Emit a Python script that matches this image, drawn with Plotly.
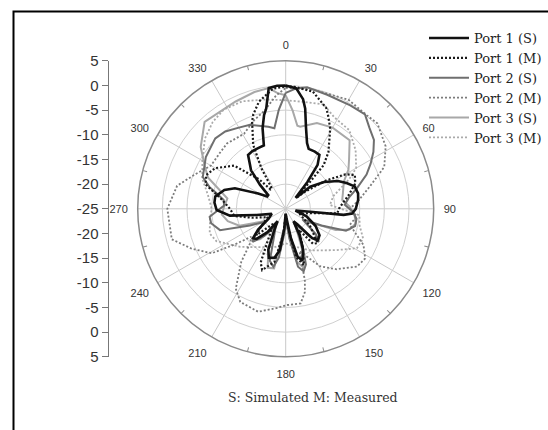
import plotly.graph_objects as go

# ---------------- data (angle in degrees, gain in dB) ----------------
p1s_theta = [0, 5, 9, 11, 14, 18, 21, 27, 32, 36, 39, 42, 45, 48, 55, 62, 67, 72, 78, 83, 90, 94, 96, 97, 100,
             110, 120, 128, 134, 138, 143, 148, 152, 157, 162, 166, 170, 175, 180, 184, 188, 193, 199, 203, 208,
             213, 218, 224, 228, 233, 240, 250, 258, 263, 269, 275, 280, 287, 292, 299, 304, 308, 313, 318, 321,
             325, 330, 336, 341, 344, 347, 349, 352, 356, 360]
p1s_db = [0, -0.5, -2.5, -4.3, -8, -11, -12, -12, -12.1, -14, -18, -22, -21, -18.3, -15.5, -13, -11.6, -10.3, -10,
          -10.2, -10.8, -11.5, -13.2, -20, -23, -20.5, -18, -16.3, -15.9, -17, -21, -22, -19, -16, -14, -15, -19,
          -23, -24, -21, -16.5, -14.8, -14.5, -16, -20, -22, -19, -16.5, -16.1, -18, -21, -22, -19, -13.6, -11,
          -10.5, -10.5, -12, -13.9, -18.6, -20.5, -20.5, -17.9, -14.5, -13.5, -11.7, -11.5, -11.5, -11.4, -8,
          -5.5, -4.3, -0.3, 0, 0]

p1m_theta = [0, 4, 13, 22, 25, 29, 37, 41, 42, 44, 48, 55, 60, 64, 70, 78, 85, 90, 95, 100, 110, 125, 137, 142,
             148, 155, 162, 168, 175, 180, 185, 192, 201, 205, 212, 220, 228, 235, 245, 255, 262, 270, 278, 287,
             293, 300, 310, 318, 322, 326, 329, 333, 339, 341, 346, 354, 360]
p1m_db = [-0.2, -0.2, -0.6, -3, -4.5, -6.4, -10.6, -13.3, -17.6, -22, -20, -15, -11, -9.4, -10, -12, -13.5, -14.2,
          -14.5, -20, -22, -19, -15.5, -16, -20, -17, -13, -15, -22, -24, -20, -14, -11.7, -13, -19, -21, -17, -19,
          -21, -18, -14.5, -13.7, -12, -8, -7.5, -8.5, -11.4, -17, -20, -20, -15.5, -10.5, -6, -4.8, -2.6, -0.5, -0.2]

p2s_theta = [0, 5, 10, 20, 32, 40, 46, 52, 57, 62, 67, 74, 80, 86, 92, 98, 104, 110, 115, 122, 130, 135, 140, 148,
             155, 160, 164, 168, 173, 178, 183, 188, 192, 197, 203, 210, 218, 225, 230, 238, 245, 252, 259, 264,
             268, 273, 278, 283, 286, 291, 303, 315, 322, 330, 337, 348, 352, 356, 360]
p2s_db = [-1.5, -0.5, 0, -0.4, -0.3, 0, -1.4, -2.3, -3.8, -5.5, -7.2, -10, -12, -13, -11.5, -10.5, -10.5, -12, -17,
          -21, -17, -15.5, -18, -22, -17, -13, -11.8, -13, -19, -23, -20, -15, -13, -14, -19, -21, -18, -15.5, -17,
          -20, -17, -11, -9.6, -9.5, -11, -12.5, -12.3, -10.5, -8.9, -7, -5.7, -4.8, -5.1, -6, -6.5, -8, -8.5, -4.9,
          -1.5]

p2m_theta = [0, 13, 30, 41, 47, 58, 67, 75, 83, 90, 96, 104, 115, 122, 129, 140, 149, 155, 162, 165, 167, 171, 179,
             186, 195, 206, 212, 220, 226, 231, 235, 239, 247, 255, 270, 282, 291, 300, 310, 318, 331, 340, 348, 355,
             360]
p2m_db = [-0.5, -0.2, 0.5, 0.1, 0.4, -1.1, -3.3, -7.3, -10, -12, -10.5, -11.6, -7.6, -6, -6.4, -9, -11.4, -14, -16,
          -10, -7.7, -5.6, -5.5, -4.7, -3.4, -4, -5.9, -11, -15, -16, -12.4, -7.5, -4.3, -1.1, -1, -2.5, -5.4, -7.5,
          -7.5, -7.2, -7.6, -6, -4.6, -2, -0.5]

p3s_theta = [0, 4, 8, 10, 20, 30, 43, 52, 58, 65, 75, 81, 88, 95, 102, 108, 113, 118, 125, 132, 137, 142, 150, 158,
             163, 168, 175, 180, 185, 191, 197, 203, 212, 220, 226, 232, 240, 250, 258, 265, 272, 280, 286, 292,
             298, 306, 317, 335, 345, 352, 356, 360]
p3s_db = [-2, -5, -8, -8.1, -6.5, -6, -6, -8.7, -10, -12, -13, -13.4, -12, -11, -10.5, -11.4, -14, -19, -20, -16,
          -16.5, -20, -21, -16, -12.5, -14, -21, -24, -21, -12.7, -12.5, -16, -21, -17, -15.5, -18, -20, -15, -13,
          -12, -12.5, -13, -11, -8, -6.4, -3.7, -0.9, -1, -0.5, -0.3, -1.5, -2]

p3m_theta = [0, 10, 20, 28, 39, 50, 60, 65, 75, 85, 95, 103, 111, 119, 129, 140, 150, 165, 180, 195, 210, 230, 245,
             252, 262, 270, 280, 290, 300, 311, 320, 328, 338, 350, 360]
p3m_db = [-3, -3, -2.5, -4, -4.5, -6.5, -8.5, -10.8, -15, -16, -10, -9.6, -8.2, -8.5, -11.7, -14, -15.3, -17, -18,
          -17, -16, -13, -9.5, -8.8, -9.5, -10, -9, -7, -5.5, -3.3, -2, -1.3, -1.5, -2.5, -3]

series_names = ["Port 1 (S)", "Port 1 (M)", "Port 2 (S)", "Port 2 (M)", "Port 3 (S)", "Port 3 (M)"]

angle_ticks = [0, 30, 60, 90, 120, 150, 180, 210, 240, 270, 300, 330]
minor_angle_ticks = [15, 45, 75, 105, 135, 165, 195, 225, 255, 285, 315, 345]
left_tick_vals = [30, 25, 20, 15, 10, 5, 0, -5, -10, -15, -20, -25, -30]
left_tick_text = ["5", "0", "-5", "-10", "-15", "-20", "-25", "-20", "-15", "-10", "-5", "0", "5"]

caption = "S: Simulated M: Measured"

# ---------------- styles ----------------
styles = [
    dict(color="#111111", width=2.6, dash="solid"),
    dict(color="#1a1a1a", width=2.2, dash="2px,2px"),
    dict(color="#6f6f6f", width=2.0, dash="solid"),
    dict(color="#7c7c7c", width=1.8, dash="2px,2px"),
    dict(color="#a8a8a8", width=2.0, dash="solid"),
    dict(color="#aaaaaa", width=1.8, dash="2px,2px"),
]

data_sets = [(p1s_theta, p1s_db), (p1m_theta, p1m_db), (p2s_theta, p2s_db),
             (p2m_theta, p2m_db), (p3s_theta, p3s_db), (p3m_theta, p3m_db)]

fig = go.Figure()
order = [5, 4, 3, 2, 1, 0]
for i in order:
    th, r = data_sets[i]
    fig.add_trace(go.Scatterpolar(
        theta=th, r=r, mode="lines", name=series_names[i],
        line=dict(color=styles[i]["color"], width=styles[i]["width"], dash=styles[i]["dash"]),
        legendrank=i + 1, hoverinfo="skip",
    ))

# empty trace on an overlaid polar subplot that only carries the minor angular ticks
fig.add_trace(go.Scatterpolar(theta=[None], r=[None], subplot="polar2", showlegend=False, hoverinfo="skip"))
# empty trace to activate the cartesian axis used as the radial scale
fig.add_trace(go.Scatter(x=[None], y=[None], showlegend=False, hoverinfo="skip"))

W, H = 548, 430
cx, cy, R = 285.7, 208.8, 148.0
px0, px1 = (cx - R) / W, (cx + R) / W
py0, py1 = (H - (cy + R)) / H, (H - (cy - R)) / H

serif = "DejaVu Serif, Liberation Serif, serif"
sans = "Liberation Sans, Arial, sans-serif"

fig.update_layout(
    width=W, height=H,
    margin=dict(l=0, r=0, t=0, b=0, pad=0, autoexpand=False),
    paper_bgcolor="white", plot_bgcolor="white",
    polar=dict(
        domain=dict(x=[px0, px1], y=[py0, py1]),
        bgcolor="white",
        radialaxis=dict(range=[-25, 5], dtick=5, tick0=0, showticklabels=False, ticks="",
                        showline=False, gridcolor="#d0d0d0", gridwidth=1),
        angularaxis=dict(direction="clockwise", rotation=90, tickmode="array", tickvals=angle_ticks,
                         ticktext=[str(a) for a in angle_ticks], showline=True, linecolor="#8a8a8a",
                         linewidth=1.5, gridcolor="#c8c8c8", gridwidth=1,
                         ticks="outside", ticklen=7, tickcolor="rgba(0,0,0,0)",
                         tickfont=dict(family=sans, size=11, color="#333333")),
    ),
    polar2=dict(
        domain=dict(x=[px0, px1], y=[py0, py1]),
        bgcolor="rgba(0,0,0,0)",
        radialaxis=dict(range=[-25, 5], visible=False, showgrid=False),
        angularaxis=dict(direction="clockwise", rotation=90, tickmode="array", tickvals=minor_angle_ticks,
                         ticktext=[""] * len(minor_angle_ticks), showline=False, showgrid=False,
                         ticks="inside", ticklen=4, tickwidth=1, tickcolor="#8a8a8a"),
    ),
    xaxis=dict(domain=[108.5 / W, 110 / W], visible=False, range=[0, 1]),
    yaxis=dict(domain=[py0, py1], range=[-30, 30], tickmode="array", tickvals=left_tick_vals,
               ticktext=left_tick_text, showline=True, linecolor="#777777", linewidth=1,
               ticks="outside", ticklen=6, tickcolor="#777777", showgrid=False, zeroline=False,
               tickfont=dict(family=sans, size=15, color="#333333")),
    legend=dict(x=424 / W, y=(H - 23) / H, xanchor="left", yanchor="top", itemwidth=40,
                bgcolor="rgba(0,0,0,0)", borderwidth=0, tracegroupgap=0,
                font=dict(family=serif, size=13, color="#222222")),
    showlegend=True,
    annotations=[dict(text=caption, x=313 / W, y=(H - 397) / H, xref="paper", yref="paper",
                      showarrow=False, xanchor="center", yanchor="middle",
                      font=dict(family=serif, size=12.5, color="#333333"))],
    shapes=[dict(type="rect", xref="paper", yref="paper", x0=13.5 / W, x1=1.1, y0=-0.1, y1=(H - 11.5) / H,
                 line=dict(color="black", width=2), fillcolor="rgba(0,0,0,0)", layer="below")],
)

fig.write_html("out.html", config={"displayModeBar": False},
               post_script="document.body.style.margin='0px';")
